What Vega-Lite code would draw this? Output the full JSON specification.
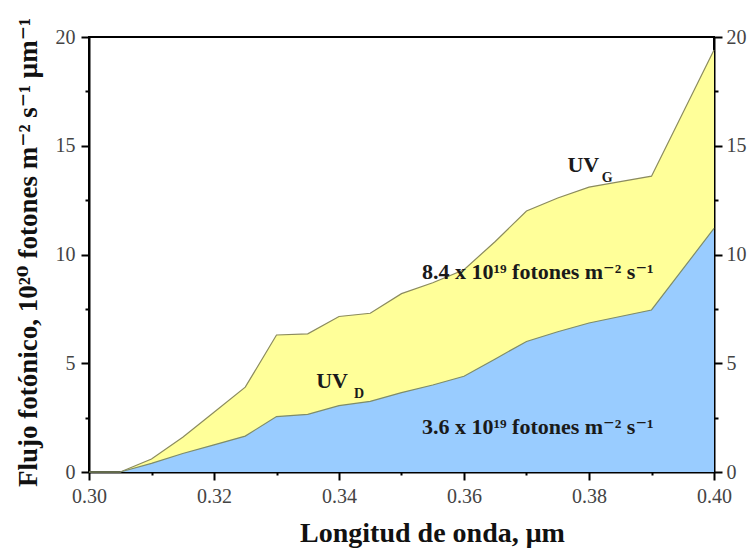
{
  "$schema": "https://vega.github.io/schema/vega-lite/v6.json",
  "width": 625,
  "height": 435,
  "autosize": "none",
  "padding": {"left": 89, "top": 37, "right": 37, "bottom": 78},
  "background": "white",
  "config": {
    "font": "Liberation Serif, DejaVu Serif, serif",
    "view": {"stroke": "black", "strokeWidth": 2},
    "axis": {
      "zindex": 1,
      "grid": false,
      "domainColor": "black",
      "domainWidth": 2,
      "tickColor": "black",
      "tickWidth": 2,
      "labelFont": "Liberation Serif, DejaVu Serif, serif",
      "labelFontSize": 20,
      "labelColor": "#444444",
      "titleFont": "Liberation Serif, DejaVu Serif, serif",
      "titleColor": "#111111",
      "titleFontWeight": "bold",
      "titleFontSize": 28
    }
  },
  "datasets": {
    "curves": [
      {"wl": 0.300, "upper": 0, "lower": 0},
      {"wl": 0.305, "upper": 0, "lower": 0},
      {"wl": 0.310, "upper": 0.6, "lower": 0.4},
      {"wl": 0.315, "upper": 1.6, "lower": 0.85},
      {"wl": 0.320, "upper": 2.75, "lower": 1.25},
      {"wl": 0.325, "upper": 3.9, "lower": 1.65},
      {"wl": 0.330, "upper": 6.3, "lower": 2.55},
      {"wl": 0.335, "upper": 6.35, "lower": 2.65},
      {"wl": 0.340, "upper": 7.15, "lower": 3.05},
      {"wl": 0.345, "upper": 7.3, "lower": 3.25},
      {"wl": 0.350, "upper": 8.2, "lower": 3.65},
      {"wl": 0.355, "upper": 8.7, "lower": 4.0},
      {"wl": 0.360, "upper": 9.3, "lower": 4.4},
      {"wl": 0.365, "upper": 10.6, "lower": 5.2},
      {"wl": 0.370, "upper": 12.0, "lower": 6.0},
      {"wl": 0.375, "upper": 12.6, "lower": 6.45},
      {"wl": 0.380, "upper": 13.1, "lower": 6.85},
      {"wl": 0.385, "upper": 13.35, "lower": 7.15},
      {"wl": 0.390, "upper": 13.6, "lower": 7.45},
      {"wl": 0.400, "upper": 19.4, "lower": 11.2}
    ],
    "uv": [
      {"wl": 0.3791, "val": 14.1, "text": "UV"},
      {"wl": 0.3389, "val": 4.18, "text": "UV"}
    ],
    "subs": [
      {"wl": 0.3829, "val": 13.5, "text": "G"},
      {"wl": 0.3432, "val": 3.6, "text": "D"}
    ],
    "notes": [
      {"wl": 0.3718, "val": 9.2, "text": "8.4 x 10¹⁹ fotones m⁻² s⁻¹"},
      {"wl": 0.3718, "val": 2.07, "text": "3.6 x 10¹⁹ fotones m⁻² s⁻¹"}
    ]
  },
  "layer": [
    {
      "data": {"name": "curves"},
      "mark": {"type": "area", "color": "#FFFF99", "opacity": 1, "line": {"color": "#8B8B5E", "strokeWidth": 1.2}},
      "encoding": {
        "x": {
          "field": "wl", "type": "quantitative",
          "scale": {"domain": [0.3, 0.4], "nice": false, "zero": false},
          "axis": {
            "orient": "bottom",
            "values": [0.30, 0.31, 0.32, 0.33, 0.34, 0.35, 0.36, 0.37, 0.38, 0.39, 0.40],
            "format": ".2f",
            "labelExpr": "round(datum.value*100) % 2 === 0 ? datum.label : ''",
            "tickSize": {"condition": {"test": "round(datum.value*100) % 2 === 0", "value": 8}, "value": 3},
            "labelPadding": 6,
            "labelFlush": false,
            "labelOverlap": false,
            "title": "Longitud de onda, μm",
            "titleAnchor": "start",
            "titleAlign": "center",
            "titleBaseline": "alphabetic",
            "titleX": 343,
            "titleY": 69
          }
        },
        "y": {
          "field": "upper", "type": "quantitative",
          "scale": {"domain": [0, 20], "nice": false},
          "axis": {
            "orient": "left",
            "values": [0, 2.5, 5, 7.5, 10, 12.5, 15, 17.5, 20],
            "format": "d",
            "labelExpr": "datum.value % 5 === 0 ? datum.label : ''",
            "tickSize": {"condition": {"test": "datum.value % 5 === 0", "value": 8}, "value": 4},
            "labelPadding": 6,
            "labelFlush": false,
            "labelOverlap": false,
            "title": "Flujo fotónico, 10²⁰  fotones m⁻² s⁻¹ μm⁻¹",
            "titleFontSize": 27,
            "titleAngle": -90,
            "titleAlign": "center",
            "titleBaseline": "middle",
            "titleX": -61,
            "titleY": 215
          }
        }
      }
    },
    {
      "data": {"name": "curves"},
      "mark": {"type": "area", "color": "#99CCFF", "opacity": 1, "line": {"color": "#7E8C6A", "strokeWidth": 1.2}},
      "encoding": {
        "x": {"field": "wl", "type": "quantitative"},
        "y": {"field": "lower", "type": "quantitative", "axis": null}
      }
    },
    {
      "data": {"name": "uv"},
      "mark": {"type": "text", "font": "Liberation Serif, DejaVu Serif, serif", "fontWeight": "bold", "fontSize": 22, "color": "#1a1a1a", "align": "center", "baseline": "middle"},
      "encoding": {
        "x": {"field": "wl", "type": "quantitative"},
        "y": {"field": "val", "type": "quantitative", "axis": null},
        "text": {"field": "text"}
      }
    },
    {
      "data": {"name": "notes"},
      "mark": {"type": "text", "font": "Liberation Serif, DejaVu Serif, serif", "fontWeight": "bold", "fontSize": 22, "color": "#1a1a1a", "align": "center", "baseline": "middle"},
      "encoding": {
        "x": {"field": "wl", "type": "quantitative"},
        "y": {"field": "val", "type": "quantitative", "axis": null},
        "text": {"field": "text"}
      }
    },
    {
      "data": {"name": "subs"},
      "mark": {"type": "text", "font": "Liberation Serif, DejaVu Serif, serif", "fontWeight": "bold", "fontSize": 14, "color": "#1a1a1a", "align": "center", "baseline": "middle"},
      "encoding": {
        "x": {"field": "wl", "type": "quantitative"},
        "y": {
          "field": "val", "type": "quantitative",
          "axis": {
            "orient": "right",
            "values": [0, 2.5, 5, 7.5, 10, 12.5, 15, 17.5, 20],
            "format": "d",
            "labelExpr": "datum.value % 5 === 0 ? datum.label : ''",
            "tickSize": {"condition": {"test": "datum.value % 5 === 0", "value": 8}, "value": 4},
            "labelPadding": 4,
            "labelFlush": false,
            "labelOverlap": false,
            "title": null
          }
        },
        "text": {"field": "text"}
      }
    }
  ],
  "resolve": {"axis": {"y": "independent"}}
}
